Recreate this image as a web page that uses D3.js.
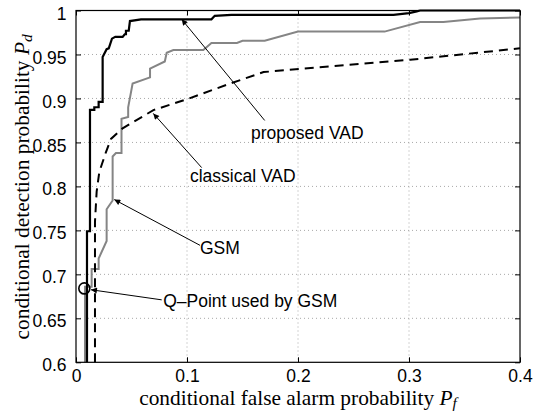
<!DOCTYPE html>
<html>
<head>
<meta charset="utf-8">
<script src="https://cdn.jsdelivr.net/npm/d3@7"></script>
<style>
  html, body { margin: 0; padding: 0; background: #fff; }
  svg { display: block; }
</style>
</head>
<body>
<svg id="chart" width="539" height="411"></svg>
<script>
// ---------------- data ----------------
const xTicks = [0, 0.1, 0.2, 0.3, 0.4];
const xTickLabels = ["0", "0.1", "0.2", "0.3", "0.4"];
const yTicks = [0.6, 0.65, 0.7, 0.75, 0.8, 0.85, 0.9, 0.95, 1];
const yTickLabels = ["0.6", "0.65", "0.7", "0.75", "0.8", "0.85", "0.9", "0.95", "1"];

const proposedVAD = [
  [0.0099, 0.6], [0.0099, 0.749], [0.0126, 0.749], [0.0126, 0.887], [0.0165, 0.887],
  [0.0165, 0.890], [0.0204, 0.890], [0.0204, 0.896], [0.024, 0.896], [0.024, 0.947],
  [0.0276, 0.956], [0.0295, 0.957], [0.0324, 0.968], [0.0354, 0.970], [0.042, 0.970],
  [0.0439, 0.973], [0.045, 0.973], [0.045, 0.977], [0.0475, 0.977], [0.0486, 0.988],
  [0.0586, 0.990], [0.122, 0.990], [0.125, 0.994], [0.14, 0.995], [0.286, 0.995],
  [0.30, 0.997], [0.307, 0.999], [0.31, 1.0], [0.4, 1.0]
];

const gsm = [
  [0.0081, 0.6], [0.0081, 0.686], [0.0141, 0.686], [0.0141, 0.706], [0.0204, 0.706],
  [0.0204, 0.718], [0.0276, 0.738], [0.0276, 0.774], [0.033, 0.784], [0.033, 0.834],
  [0.036, 0.838], [0.041, 0.838], [0.041, 0.877], [0.047, 0.879], [0.047, 0.890],
  [0.051, 0.917], [0.0667, 0.924], [0.0667, 0.934], [0.080, 0.942], [0.0817, 0.952],
  [0.0877, 0.955], [0.1147, 0.955], [0.122, 0.963], [0.145, 0.963], [0.15, 0.9656],
  [0.170, 0.9656], [0.200, 0.976], [0.278, 0.976], [0.31, 0.987], [0.331, 0.987],
  [0.364, 0.991], [0.4, 0.992]
];

const classicalVAD = [
  [0.0171, 0.6], [0.0171, 0.76], [0.0186, 0.794], [0.021, 0.8165], [0.027, 0.839],
  [0.0315, 0.854], [0.042, 0.866], [0.0697, 0.8867], [0.0997, 0.899], [0.139, 0.917],
  [0.169, 0.930], [0.301, 0.944], [0.4, 0.957]
];

const qPoint = [0.0075, 0.684];

// annotation: label, arrow tip (data), arrow tail (data), text anchor (data)
const annLabels = ["proposed VAD", "classical VAD", "GSM", "Q\u2013Point used by GSM"];
const annTips   = [[0.0952, 0.990], [0.0696, 0.883], [0.0345, 0.785], [0.0135, 0.6825]];
const annTails  = [[0.170, 0.875], [0.1132, 0.8214], [0.1117, 0.733], [0.0772, 0.671]];
const annText   = [[0.1577, 0.8544], [0.1027, 0.805], [0.1117, 0.7235], [0.0786, 0.6627]];

// ---------------- layout ----------------
const L = 76, R = 520, T = 10.5, B = 362.3;
const svg = d3.select("#chart");

const x = d3.scaleLinear().domain([0, 0.4]).range([L, R]);
const y = d3.scaleLinear().domain([0.6, 1]).range([B, T]);

const sansFont = "'Liberation Sans', Arial, Helvetica, sans-serif";
const serifFont = "'Liberation Serif', 'Times New Roman', serif";

// grid
const grid = svg.append("g").attr("class", "grid");
grid.selectAll("line.gx").data(xTicks.slice(1, -1)).join("line")
  .attr("x1", d => x(d)).attr("x2", d => x(d)).attr("y1", T).attr("y2", B)
  .attr("stroke", "#a8a8a8").attr("stroke-width", 1).attr("stroke-dasharray", "1,3");
grid.selectAll("line.gy").data(yTicks.slice(1, -1)).join("line")
  .attr("y1", d => y(d)).attr("y2", d => y(d)).attr("x1", L).attr("x2", R)
  .attr("stroke", "#a8a8a8").attr("stroke-width", 1).attr("stroke-dasharray", "1,3");

// axes via d3 axis (inner ticks)
const xAxisB = d3.axisBottom(x).tickValues(xTicks).tickFormat((d, i) => xTickLabels[i]).tickSize(-5).tickPadding(12);
const xAxisT = d3.axisTop(x).tickValues(xTicks).tickFormat("").tickSize(-5);
const yAxisL = d3.axisLeft(y).tickValues(yTicks).tickFormat((d, i) => yTickLabels[i]).tickSize(-5).tickPadding(9.5);
const yAxisR = d3.axisRight(y).tickValues(yTicks).tickFormat("").tickSize(-5);

function styleAxis(g) {
  g.select(".domain").remove();
  g.selectAll(".tick line").attr("stroke", "#000").attr("stroke-width", 1);
  g.selectAll(".tick text").attr("fill", "#000").attr("font-family", sansFont).attr("font-size", "17.5px");
}
const gxB = svg.append("g").attr("transform", `translate(0,${B})`).call(xAxisB).call(styleAxis);
gxB.selectAll(".tick text").attr("dy", null).attr("y", 382 - B);
svg.append("g").attr("transform", `translate(0,${T})`).call(xAxisT).call(styleAxis);
const gyL = svg.append("g").attr("transform", `translate(${L},0)`).call(yAxisL).call(styleAxis);
gyL.selectAll(".tick text").attr("dy", "0.49em");
svg.append("g").attr("transform", `translate(${R},0)`).call(yAxisR).call(styleAxis);

// curves
const line = d3.line().x(d => x(d[0])).y(d => y(d[1]));
const plot = svg.append("g");
plot.append("path").datum(gsm).attr("d", line)
  .attr("fill", "none").attr("stroke", "#858585").attr("stroke-width", 2).attr("stroke-linejoin", "miter");
plot.append("path").datum(classicalVAD).attr("d", line)
  .attr("fill", "none").attr("stroke", "#000").attr("stroke-width", 2).attr("stroke-dasharray", "9,6");
plot.append("path").datum(proposedVAD).attr("d", line)
  .attr("fill", "none").attr("stroke", "#000").attr("stroke-width", 2.2).attr("stroke-linejoin", "miter");

// Q point circle
plot.append("circle").attr("cx", x(qPoint[0])).attr("cy", y(qPoint[1])).attr("r", 5.5)
  .attr("fill", "none").attr("stroke", "#000").attr("stroke-width", 1.6);

// box
svg.append("rect").attr("x", L).attr("y", T).attr("width", R - L).attr("height", B - T)
  .attr("fill", "none").attr("stroke", "#000").attr("stroke-width", 1.2);

// annotations
const defs = svg.append("defs");
defs.append("marker").attr("id", "arrow").attr("viewBox", "0 0 10 10")
  .attr("refX", 10).attr("refY", 5).attr("markerWidth", 8).attr("markerHeight", 6)
  .attr("markerUnits", "userSpaceOnUse").attr("orient", "auto")
  .append("path").attr("d", "M0,0 L10,5 L0,10 z").attr("fill", "#000");

const ann = svg.append("g");
annLabels.forEach((lab, i) => {
  ann.append("line")
    .attr("x1", x(annTails[i][0])).attr("y1", y(annTails[i][1]))
    .attr("x2", x(annTips[i][0])).attr("y2", y(annTips[i][1]))
    .attr("stroke", "#000").attr("stroke-width", 1).attr("marker-end", "url(#arrow)");
  ann.append("text").attr("x", x(annText[i][0])).attr("y", y(annText[i][1]))
    .attr("font-family", sansFont).attr("font-size", "17.5px").attr("fill", "#000")
    .text(lab);
});

// axis labels
function axisLabel(g, main, sym, sub) {
  const t = g.append("text").attr("font-family", serifFont).attr("fill", "#000").attr("text-anchor", "middle");
  t.append("tspan").text(main + " ");
  t.append("tspan").attr("font-style", "italic").text(sym);
  t.append("tspan").attr("font-style", "italic").attr("font-size", "0.72em").attr("dy", "0.2em").text(sub);
  return t;
}
const xl = axisLabel(svg.append("g").attr("transform", `translate(${(L + R) / 2},404.5)`),
  "conditional false alarm probability", "P", "f");
xl.attr("font-size", "17px");
const wx = xl.node().getBBox().width;
const labelSize = 17 * 320 / wx;
xl.attr("font-size", labelSize + "px");

const yl = axisLabel(svg.append("g").attr("transform", `translate(28.5,${(T + B) / 2 + 0.5}) rotate(-90)`),
  "conditional detection probability", "P", "d");
yl.attr("font-size", labelSize + "px");
</script>
</body>
</html>
